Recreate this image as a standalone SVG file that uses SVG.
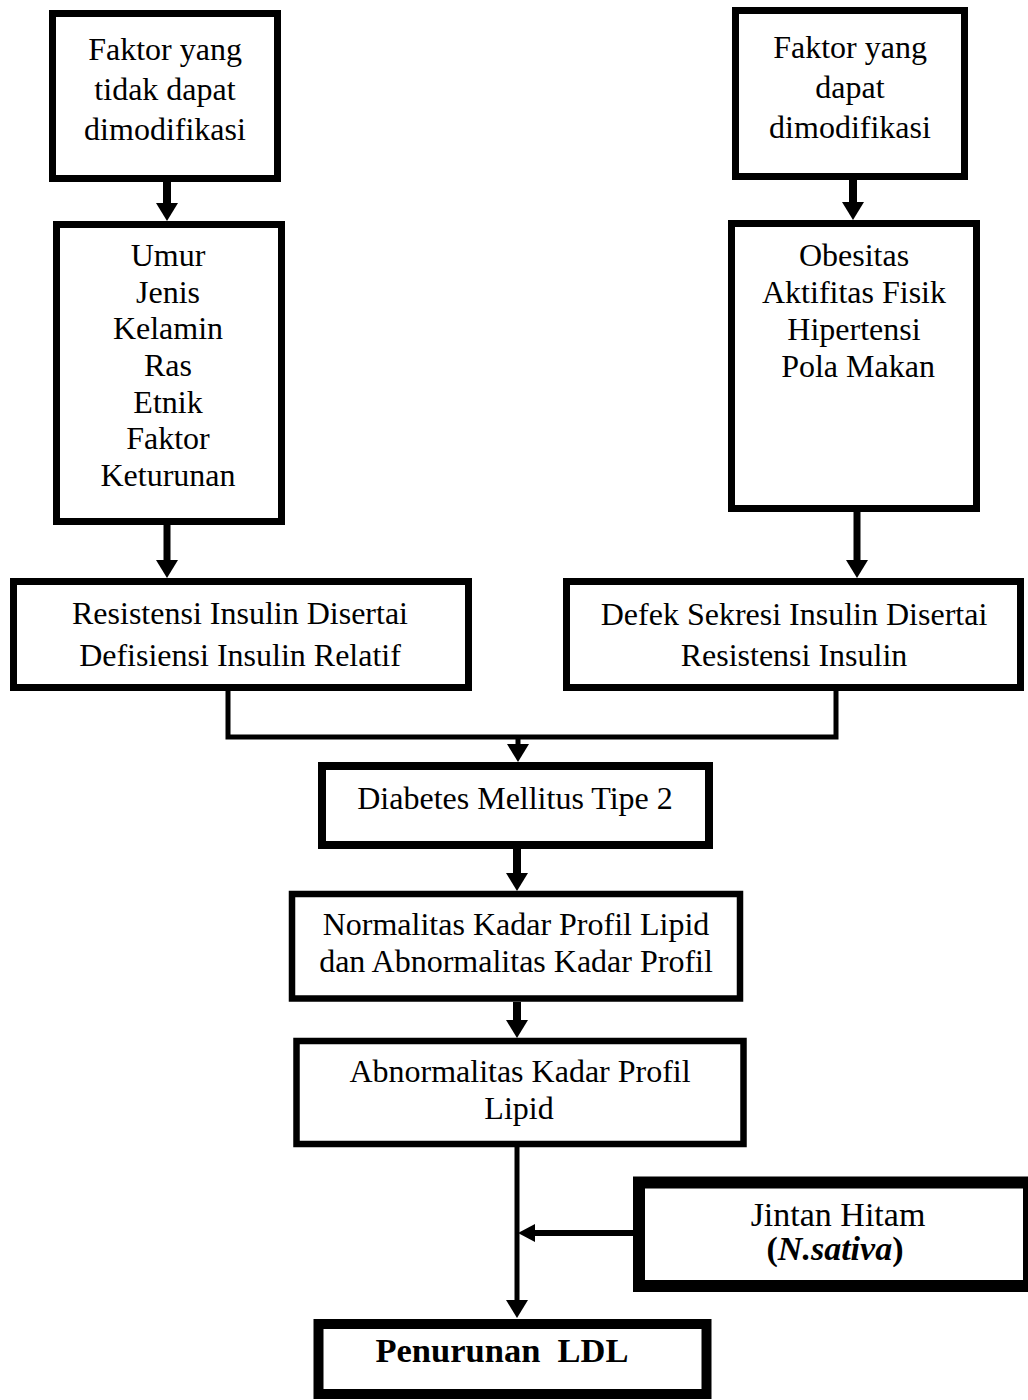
<svg xmlns="http://www.w3.org/2000/svg" width="1028" height="1400" viewBox="0 0 1028 1400">
  <style>
    .box { fill: #fff; stroke: #000; }
    .t { font-family: "Liberation Serif", "Times New Roman", serif; font-size: 32px; fill: #000; text-anchor: middle; }
    .big { font-size: 34px; }
    .ldl { font-size: 34.5px; }
    .bold { font-weight: bold; }
    .it { font-style: italic; }
    .link { fill: none; stroke: #000; stroke-linecap: butt; stroke-linejoin: miter; }
  </style>
  <defs>
    <marker id="head" viewBox="0 0 18 22" refX="0" refY="11" markerWidth="18" markerHeight="22" markerUnits="userSpaceOnUse" orient="auto">
      <path d="M0,0 L18,11 L0,22 Z" fill="#000"/>
    </marker>
    <marker id="headSm" viewBox="0 0 17 18" refX="0" refY="9" markerWidth="17" markerHeight="18" markerUnits="userSpaceOnUse" orient="auto">
      <path d="M0,0 L17,9 L0,18 Z" fill="#000"/>
    </marker>
  </defs>

  <rect width="1028" height="1400" fill="#fff"/>

  <!-- connectors -->
  <g id="connectors">
    <path class="link" d="M167,182 V203" stroke-width="8" marker-end="url(#head)"/>
    <path class="link" d="M853,180 V202" stroke-width="8" marker-end="url(#head)"/>
    <path class="link" d="M167,525 V560" stroke-width="7" marker-end="url(#head)"/>
    <path class="link" d="M857,512 V560" stroke-width="7" marker-end="url(#head)"/>
    <path class="link" d="M228,691 V737 H836 V691" stroke-width="5"/>
    <path class="link" d="M518,737 V744" stroke-width="5" marker-end="url(#head)"/>
    <path class="link" d="M517,849 V873" stroke-width="8" marker-end="url(#head)"/>
    <path class="link" d="M517,1002 V1020" stroke-width="8" marker-end="url(#head)"/>
    <path class="link" d="M517,1147 V1300" stroke-width="5" marker-end="url(#head)"/>
    <path class="link" d="M634,1233 H535" stroke-width="6" marker-end="url(#headSm)"/>
  </g>

  <!-- factors that cannot be modified -->
  <g id="faktor-tidak-modifikasi">
    <rect class="box" x="52.5" y="13.5" width="225" height="165" stroke-width="7"/>
    <text class="t" x="165" y="60">Faktor yang</text>
    <text class="t" x="165" y="100">tidak dapat</text>
    <text class="t" x="165" y="140">dimodifikasi</text>
  </g>

  <g id="faktor-list-kiri">
    <rect class="box" x="56.5" y="224.5" width="225" height="297" stroke-width="7"/>
    <text class="t" x="168" y="266">Umur</text>
    <text class="t" x="168" y="303">Jenis</text>
    <text class="t" x="168" y="339">Kelamin</text>
    <text class="t" x="168" y="376">Ras</text>
    <text class="t" x="168" y="413">Etnik</text>
    <text class="t" x="168" y="449">Faktor</text>
    <text class="t" x="168" y="486">Keturunan</text>
  </g>

  <!-- factors that can be modified -->
  <g id="faktor-modifikasi">
    <rect class="box" x="735.5" y="10.5" width="229" height="166" stroke-width="7"/>
    <text class="t" x="850" y="58">Faktor yang</text>
    <text class="t" x="850" y="98">dapat</text>
    <text class="t" x="850" y="138">dimodifikasi</text>
  </g>

  <g id="faktor-list-kanan">
    <rect class="box" x="731.5" y="223.5" width="245" height="285" stroke-width="7"/>
    <text class="t" x="854" y="266">Obesitas</text>
    <text class="t" x="854" y="303">Aktifitas Fisik</text>
    <text class="t" x="854" y="340">Hipertensi</text>
    <text class="t" x="858" y="377">Pola Makan</text>
  </g>

  <g id="resistensi">
    <rect class="box" x="13.5" y="581.5" width="455" height="106" stroke-width="7"/>
    <text class="t" x="240" y="624">Resistensi Insulin Disertai</text>
    <text class="t" x="240" y="666">Defisiensi Insulin Relatif</text>
  </g>

  <g id="defek-sekresi">
    <rect class="box" x="566.5" y="581.5" width="454" height="106" stroke-width="7"/>
    <text class="t" x="794" y="625">Defek Sekresi Insulin Disertai</text>
    <text class="t" x="794" y="666">Resistensi Insulin</text>
  </g>

  <g id="dm-tipe-2">
    <rect class="box" x="322" y="766" width="387" height="79" stroke-width="8"/>
    <text class="t" x="515" y="809">Diabetes Mellitus Tipe 2</text>
  </g>

  <g id="normalitas">
    <rect class="box" x="292" y="894" width="448" height="104.5" stroke-width="6.5"/>
    <text class="t" x="516" y="935">Normalitas Kadar Profil Lipid</text>
    <text class="t" x="516" y="972">dan Abnormalitas Kadar Profil</text>
  </g>

  <g id="abnormalitas">
    <rect class="box" x="296.5" y="1041" width="447" height="103" stroke-width="6.5"/>
    <text class="t" x="520" y="1082">Abnormalitas Kadar Profil</text>
    <text class="t" x="519" y="1119">Lipid</text>
  </g>

  <g id="jintan-hitam">
    <rect class="box" x="639" y="1182.5" width="390" height="103.5" stroke-width="12"/>
    <text class="t big" x="838" y="1226">Jintan Hitam</text>
    <text class="t big" x="835" y="1260"><tspan class="bold">(</tspan><tspan class="bold it">N.sativa</tspan><tspan class="bold">)</tspan></text>
  </g>

  <g id="penurunan-ldl">
    <rect class="box" x="318.5" y="1324" width="388" height="70" stroke-width="10"/>
    <text class="t bold ldl" x="502" y="1362" xml:space="preserve">Penurunan  LDL</text>
  </g>
</svg>
